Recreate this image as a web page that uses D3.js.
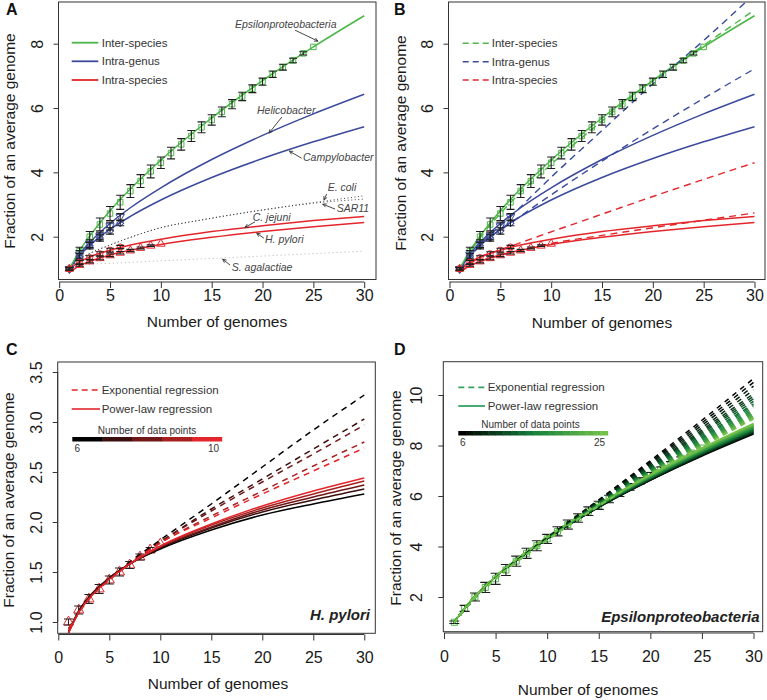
<!DOCTYPE html>
<html><head><meta charset="utf-8">
<script src="https://cdn.jsdelivr.net/npm/d3@7"></script>
<style>
body{margin:0;background:#fff;}
svg{display:block;}
</style></head><body>
<svg id="chart" width="767" height="700"></svg>
<script>
// ---------------- DATA ----------------
const genomeTicks = [0, 5, 10, 15, 20, 25, 30];
const yTicksAB = [2, 4, 6, 8];
const yTicksC = [1.0, 1.5, 2.0, 2.5, 3.0, 3.5];
const yTicksD = [2, 4, 6, 8, 10];

// Inter-species (Epsilonproteobacteria) observed means
const epsGenomes = [1,2,3,4,5,6,7,8,9,10,11,12,13,14,15,16,17,18,19,20,21,22,23,24,25];
const epsMean = [1.0,1.55,2.0,2.38,2.72,3.07,3.42,3.73,4.03,4.3,4.6,4.87,5.13,5.4,5.63,5.88,6.12,6.36,6.6,6.82,7.05,7.27,7.48,7.7,7.9];
const epsErr  = [0.05,0.12,0.16,0.2,0.22,0.22,0.2,0.2,0.2,0.18,0.18,0.18,0.17,0.17,0.16,0.15,0.14,0.13,0.12,0.11,0.1,0.09,0.07,0.05,0];

// Intra-genus
const genusGenomes = [1,2,3,4,5,6];
const helicoMean = [1.0,1.45,1.78,2.02,2.33,2.62];
const helicoErr  = [0.05,0.12,0.12,0.12,0.12,0.1];
const campyMean  = [1.0,1.38,1.72,1.96,2.18,2.42];
const campyErr   = [0.05,0.1,0.1,0.1,0.1,0.08];

// Intra-species
const cjejuniGenomes = [1,2,3,4,5,6];
const cjejuniMean = [1.0,1.2,1.35,1.47,1.58,1.68];
const cjejuniErr  = [0.04,0.06,0.06,0.06,0.06,0.05];
const hpyloriGenomes = [1,2,3,4,5,6,7,8,9,10];
const hpyloriMean = [1.0,1.12,1.23,1.33,1.42,1.5,1.57,1.65,1.72,1.78];
const hpyloriErr  = [0.03,0.04,0.045,0.045,0.04,0.04,0.035,0.03,0.025,0.0];

// Power-law fitted curves (read at these genome counts)
const fitX = [1,2,3,5,7,10,15,20,25,30];
const helicoPower  = [1.0,1.46,1.82,2.41,2.9,3.52,4.4,5.15,5.82,6.43];
const campyPower   = [1.0,1.41,1.73,2.23,2.63,3.14,3.84,4.43,4.95,5.42];
const cjejuniPower = [1.0,1.22,1.37,1.58,1.74,1.92,2.16,2.34,2.5,2.63];

// Other species (dotted) in panel A
const ecoliX = [1,2,3,5,7,10,14,20,25,30];
const ecoliY = [1.0,1.3,1.48,1.74,1.98,2.28,2.52,2.83,3.06,3.27];
const sar11Y = [1.0,1.3,1.48,1.74,1.98,2.28,2.52,2.83,3.04,3.17];
const sagalX = [1,2,3,5,8,12,17.5,24,30];
const sagalY = [1.0,1.09,1.14,1.17,1.22,1.28,1.36,1.46,1.55];

// Exponential fitted curves (panel B)
const expX = [1,3,6,10,15,20,25,30];
const helicoExp  = [0.97,1.75,2.62,3.85,5.3,6.75,8.1,9.55];
const campyExp   = [0.97,1.72,2.42,3.3,4.35,5.35,6.3,7.22];
const cjejuniExp = [0.97,1.35,1.7,2.15,2.7,3.25,3.78,4.3];

// Panel C: H. pylori fits with 6..10 data points
const hpN = [6,7,8,9,10];
const hpPowerX = [1,2,3,5,7,10,15,20,25,30];
const hpPower = [
  [0.9,1.11,1.25,1.44,1.58,1.73,1.92,2.07,2.18,2.28],
  [0.9,1.105,1.245,1.44,1.58,1.74,1.94,2.10,2.22,2.33],
  [0.895,1.10,1.24,1.435,1.58,1.75,1.95,2.12,2.25,2.37],
  [0.89,1.10,1.235,1.43,1.58,1.755,1.97,2.14,2.28,2.41],
  [0.89,1.095,1.23,1.43,1.58,1.76,1.98,2.16,2.31,2.44]
];
const hpExpX = [1,3,5,7,10,15,20,25,30];
const hpExp = [
  [0.93,1.24,1.43,1.6,1.82,2.18,2.55,2.92,3.27],
  [0.93,1.24,1.43,1.59,1.8,2.13,2.43,2.73,3.03],
  [0.93,1.24,1.43,1.59,1.8,2.11,2.40,2.68,2.97],
  [0.93,1.23,1.42,1.58,1.79,2.06,2.31,2.56,2.80],
  [0.93,1.23,1.42,1.58,1.79,2.04,2.28,2.51,2.74]
];

// Panel D: Epsilonproteobacteria fits with 6..25 data points
const epsN = [6,7,8,9,10,11,12,13,14,15,16,17,18,19,20,21,22,23,24,25];
const epsFitX = [1,2,3,5,10,15,20,25,30];
const epsPowerByN = [
  [1.0,1.56,2.02,2.8,4.30,5.55,6.62,7.58,8.45],
  [1.0,1.56,2.02,2.8,4.30,5.56,6.63,7.60,8.47],
  [1.0,1.56,2.02,2.8,4.31,5.56,6.64,7.61,8.49],
  [1.0,1.56,2.02,2.8,4.31,5.57,6.66,7.63,8.52],
  [1.0,1.56,2.02,2.8,4.32,5.58,6.67,7.65,8.54],
  [1.0,1.56,2.02,2.8,4.32,5.59,6.68,7.66,8.56],
  [1.0,1.56,2.02,2.8,4.33,5.59,6.69,7.68,8.58],
  [1.0,1.56,2.02,2.8,4.33,5.60,6.70,7.70,8.60],
  [1.0,1.56,2.02,2.8,4.33,5.61,6.72,7.71,8.63],
  [1.0,1.56,2.02,2.8,4.34,5.62,6.73,7.73,8.65],
  [1.0,1.56,2.02,2.8,4.34,5.62,6.74,7.75,8.67],
  [1.0,1.56,2.02,2.81,4.35,5.63,6.75,7.77,8.69],
  [1.0,1.56,2.02,2.81,4.35,5.64,6.77,7.78,8.72],
  [1.0,1.56,2.02,2.81,4.35,5.65,6.78,7.80,8.74],
  [1.0,1.56,2.02,2.81,4.36,5.65,6.79,7.82,8.76],
  [1.0,1.56,2.02,2.81,4.36,5.66,6.80,7.83,8.78],
  [1.0,1.56,2.02,2.81,4.37,5.67,6.81,7.85,8.80],
  [1.0,1.56,2.02,2.81,4.37,5.68,6.83,7.87,8.83],
  [1.0,1.56,2.02,2.81,4.38,5.68,6.84,7.88,8.85],
  [1.0,1.56,2.02,2.81,4.38,5.69,6.85,7.90,8.87]
];
const epsExpByN = [
  [0.98,1.5,1.96,2.75,4.35,5.85,7.40,9.00,10.65],
  [0.98,1.5,1.96,2.75,4.34,5.83,7.35,8.90,10.50],
  [0.98,1.5,1.96,2.75,4.33,5.80,7.30,8.80,10.35],
  [0.98,1.5,1.96,2.75,4.32,5.78,7.25,8.70,10.20],
  [0.98,1.5,1.96,2.75,4.31,5.76,7.19,8.61,10.05],
  [0.98,1.5,1.96,2.74,4.31,5.74,7.16,8.54,9.95],
  [0.98,1.5,1.96,2.74,4.30,5.73,7.13,8.48,9.85],
  [0.98,1.5,1.96,2.74,4.29,5.71,7.09,8.41,9.75],
  [0.98,1.5,1.96,2.74,4.29,5.69,7.06,8.34,9.65],
  [0.98,1.5,1.96,2.74,4.28,5.68,7.03,8.30,9.58],
  [0.98,1.5,1.96,2.73,4.28,5.67,7.00,8.25,9.50],
  [0.98,1.5,1.96,2.73,4.27,5.66,6.98,8.20,9.43],
  [0.98,1.5,1.96,2.73,4.27,5.65,6.96,8.16,9.37],
  [0.98,1.5,1.96,2.73,4.27,5.64,6.94,8.12,9.31],
  [0.98,1.5,1.96,2.73,4.26,5.63,6.92,8.09,9.26],
  [0.98,1.5,1.96,2.72,4.26,5.63,6.91,8.06,9.21],
  [0.98,1.5,1.96,2.72,4.26,5.62,6.89,8.03,9.17],
  [0.98,1.5,1.96,2.72,4.26,5.61,6.88,8.00,9.13],
  [0.98,1.5,1.96,2.72,4.25,5.61,6.86,7.98,9.09],
  [0.98,1.5,1.96,2.72,4.25,5.60,6.85,7.95,9.05]
];

const legendAB = ["Inter-species", "Intra-genus", "Intra-species"];
const legendCD = ["Exponential regression", "Power-law regression"];

// ---------------- STYLE ----------------
const FONT = '"Liberation Sans", Arial, Helvetica, sans-serif';
const GREEN = "#4cb748", BLUE = "#3b4a9c", RED = "#e3262b", BARC = "#1e1e1e", AXC = "#333";
const hpColors = ["#000000", "#3c0e0e", "#701717", "#a81f1f", "#e3262b"];
const epsColor = d3.scaleLinear().domain([6, 15.5, 25]).range(["#000000", "#15803c", "#74c24a"]);

const svg = d3.select("#chart");

function panel(cfg) {
  const x = d3.scaleLinear().domain([0, 30]).range(cfg.xRange);
  const y = d3.scaleLinear().domain(cfg.yDomain).range(cfg.yRange);
  const [bl, bt, br, bb] = cfg.box;
  const clipId = "clip-" + cfg.name;
  svg.append("clipPath").attr("id", clipId).append("rect")
    .attr("x", bl).attr("y", bt).attr("width", br - bl).attr("height", bb - bt);
  const layer = svg.append("g").attr("clip-path", `url(#${clipId})`);
  svg.append("rect").attr("x", bl).attr("y", bt).attr("width", br - bl).attr("height", bb - bt)
    .attr("fill", "none").attr("stroke", AXC).attr("stroke-width", 1);

  const xg = svg.append("g").attr("transform", `translate(0,${cfg.xAxisY})`)
    .call(d3.axisBottom(x).tickValues(genomeTicks).tickSize(6).tickSizeOuter(0));
  xg.select(".domain").remove();
  xg.append("line").attr("x1", x(genomeTicks[0])).attr("x2", x(genomeTicks[genomeTicks.length - 1]))
    .attr("stroke", AXC);
  xg.selectAll(".tick line").attr("stroke", AXC);
  xg.selectAll(".tick text").attr("y", cfg.xLabelY - cfg.xAxisY).attr("dy", null)
    .attr("font-size", 16).attr("font-family", FONT).attr("fill", "#1a1a1a");

  const yg = svg.append("g").attr("transform", `translate(${cfg.yAxisX},0)`)
    .call(d3.axisLeft(y).tickValues(cfg.yTicks).tickFormat(cfg.yFmt).tickSize(5).tickSizeOuter(0));
  yg.select(".domain").remove();
  yg.append("line").attr("y1", y(cfg.yTicks[0])).attr("y2", y(cfg.yTicks[cfg.yTicks.length - 1]))
    .attr("stroke", AXC);
  yg.selectAll(".tick line").attr("stroke", AXC);
  yg.selectAll(".tick text").attr("transform", "rotate(-90)").attr("x", 0)
    .attr("y", cfg.yLabelX - cfg.yAxisX).attr("dy", null).attr("text-anchor", "middle")
    .attr("font-size", 16).attr("font-family", FONT).attr("fill", "#1a1a1a");

  svg.append("text").attr("x", cfg.xTitle[0]).attr("y", cfg.xTitle[1]).attr("text-anchor", "middle")
    .attr("font-family", FONT).attr("font-size", 15.5).attr("fill", "#1a1a1a").text("Number of genomes");
  svg.append("text").attr("transform", `translate(${cfg.yTitle[0]},${cfg.yTitle[1]}) rotate(-90)`)
    .attr("text-anchor", "middle").attr("font-family", FONT).attr("font-size", 15.5).attr("fill", "#1a1a1a")
    .text("Fraction of an average genome");
  svg.append("text").attr("x", cfg.letter[0]).attr("y", cfg.letter[1]).attr("font-family", FONT)
    .attr("font-weight", "bold").attr("font-size", 16).attr("fill", "#111").text(cfg.name);
  return { x, y, layer };
}

function curve(p, xs, ys, color, width, dash) {
  p.layer.append("path").datum(d3.zip(xs, ys))
    .attr("d", d3.line().x(d => p.x(d[0])).y(d => p.y(d[1])).curve(d3.curveMonotoneX))
    .attr("fill", "none").attr("stroke", color).attr("stroke-width", width)
    .attr("stroke-dasharray", dash || null);
}
function markers(p, xs, ms, type, color, size, rot) {
  p.layer.append("g").selectAll("path").data(d3.zip(xs, ms)).join("path")
    .attr("d", d3.symbol().type(type).size(size))
    .attr("transform", d => `translate(${p.x(d[0])},${p.y(d[1])}) rotate(${rot || 0})`)
    .attr("fill", "none").attr("stroke", color).attr("stroke-width", 1);
}
function errorBars(p, xs, ms, es, capW, color) {
  const g = p.layer.append("g").attr("stroke", color || BARC).attr("stroke-width", 1.1);
  xs.forEach((gx, i) => {
    const e = es[i];
    if (!e) return;
    const cx = p.x(gx), y1 = p.y(ms[i] - e), y2 = p.y(ms[i] + e);
    g.append("line").attr("x1", cx).attr("x2", cx).attr("y1", y1).attr("y2", y2);
    g.append("line").attr("x1", cx - capW / 2).attr("x2", cx + capW / 2).attr("y1", y1).attr("y2", y1);
    g.append("line").attr("x1", cx - capW / 2).attr("x2", cx + capW / 2).attr("y1", y2).attr("y2", y2);
  });
}
function legendLines(labels, colors, x0, x1, ys, tx, dash, width) {
  labels.forEach((t, i) => {
    svg.append("line").attr("x1", x0).attr("x2", x1).attr("y1", ys[i]).attr("y2", ys[i])
      .attr("stroke", colors[i]).attr("stroke-width", width).attr("stroke-dasharray", dash[i] || null);
    svg.append("text").attr("x", tx).attr("y", ys[i] + 4).attr("font-family", FONT)
      .attr("font-size", 11.5).attr("fill", "#333").text(t);
  });
}
function arrow(p, from, to) {
  const x1 = p.x(from[0]), y1 = p.y(from[1]), x2 = p.x(to[0]), y2 = p.y(to[1]);
  const a = Math.atan2(y2 - y1, x2 - x1), L = 4;
  const g = svg.append("g").attr("stroke", "#333").attr("stroke-width", 0.9).attr("fill", "none");
  g.append("line").attr("x1", x1).attr("y1", y1).attr("x2", x2).attr("y2", y2);
  g.append("path").attr("d", `M${x2 - L * Math.cos(a - 0.45)},${y2 - L * Math.sin(a - 0.45)}L${x2},${y2}L${x2 - L * Math.cos(a + 0.45)},${y2 - L * Math.sin(a + 0.45)}`);
}

function drawGenusSpecies(p) {
  curve(p, fitX, helicoPower, BLUE, 1.5);
  curve(p, fitX, campyPower, BLUE, 1.5);
  curve(p, fitX, cjejuniPower, RED, 1.5);
  curve(p, hpPowerX, hpPower[4], RED, 1.5);
  curve(p, epsFitX, epsPowerByN[19], GREEN, 1.5);
}
function drawObserved(p) {
  markers(p, epsGenomes, epsMean, d3.symbolSquare, GREEN, 30, 0);
  errorBars(p, epsGenomes, epsMean, epsErr, 8);
  markers(p, genusGenomes, helicoMean, d3.symbolTriangle, BLUE, 30, 180);
  markers(p, genusGenomes, campyMean, d3.symbolSquare, BLUE, 24, 45);
  errorBars(p, genusGenomes, helicoMean, helicoErr, 8);
  errorBars(p, genusGenomes, campyMean, campyErr, 8);
  markers(p, cjejuniGenomes, cjejuniMean, d3.symbolCircle, RED, 30, 0);
  markers(p, hpyloriGenomes, hpyloriMean, d3.symbolTriangle, RED, 30, 0);
  errorBars(p, cjejuniGenomes, cjejuniMean, cjejuniErr, 8);
  errorBars(p, hpyloriGenomes, hpyloriMean, hpyloriErr, 8);
}

// ---------------- PANEL A ----------------
const pA = panel({
  name: "A", box: [58.5, 2, 376, 279.5], xRange: [59.2, 364.2], yDomain: [2, 8], yRange: [236.7, 43.7],
  xAxisY: 282, xLabelY: 301, yAxisX: 58.5, yLabelX: 43.3, yTicks: yTicksAB, yFmt: d3.format("d"),
  xTitle: [217, 327], yTitle: [15, 141], letter: [6, 15]
});
curve(pA, sagalX, sagalY, "#b0b0b0", 1, "1,3");
curve(pA, ecoliX, ecoliY, "#333", 0.9, "1,2.5");
curve(pA, ecoliX, sar11Y, "#333", 0.9, "1,2.5");
drawGenusSpecies(pA);
drawObserved(pA);
legendLines(legendAB, [GREEN, BLUE, RED], 71.7, 98.3, [42.7, 61.3, 80], 101.7, [], 1.8);

const annotations = [
  { t: "Epsilonproteobacteria", at: [17.29, 8.49], from: [23.2, 8.42], to: [25.45, 8.08] },
  { t: "Helicobacter", at: [19.46, 5.81], from: [21.9, 5.72], to: [20.64, 5.22] },
  { t: "Campylobacter", at: [23.98, 4.35], from: [23.85, 4.44], to: [22.63, 4.66] },
  { t: "E. coli", at: [26.41, 3.42], from: [26.31, 3.33], to: [26.05, 3.14] },
  { t: "SAR11", at: [27.29, 2.77], from: [27.13, 2.86], to: [25.92, 3.01] },
  { t: "C. jejuni", at: [19.03, 2.50], from: [19.26, 2.46], to: [18.27, 2.29] },
  { t: "H. pylori", at: [20.24, 1.81], from: [20.14, 1.95], to: [19.43, 2.11] },
  { t: "S. agalactiae", at: [16.97, 0.93], from: [16.8, 1.12], to: [16.08, 1.3] }
];
annotations.forEach(a => {
  svg.append("text").attr("x", pA.x(a.at[0])).attr("y", pA.y(a.at[1])).attr("font-family", FONT)
    .attr("font-style", "italic").attr("font-size", 10.5).attr("fill", "#444").text(a.t);
  arrow(pA, a.from, a.to);
});

// ---------------- PANEL B ----------------
const pB = panel({
  name: "B", box: [448.5, 2, 765, 279.5], xRange: [449.5, 754.5], yDomain: [2, 8], yRange: [236.7, 43.7],
  xAxisY: 282, xLabelY: 301, yAxisX: 448.5, yLabelX: 432.5, yTicks: yTicksAB, yFmt: d3.format("d"),
  xTitle: [602, 328], yTitle: [406, 143], letter: [394, 15]
});
drawGenusSpecies(pB);
curve(pB, epsFitX, epsExpByN[19], GREEN, 1.4, "7,5");
curve(pB, expX, helicoExp, BLUE, 1.4, "7,5");
curve(pB, expX, campyExp, BLUE, 1.4, "7,5");
curve(pB, expX, cjejuniExp, RED, 1.4, "7,5");
curve(pB, hpExpX, hpExp[4], RED, 1.4, "7,5");
drawObserved(pB);
legendLines(legendAB, [GREEN, BLUE, RED], 462.7, 490, [43.3, 61.7, 80], 491.7, ["6,4", "6,4", "6,4"], 1.6);

// ---------------- PANEL C ----------------
const pC = panel({
  name: "C", box: [57.7, 362, 375.3, 633.3], xRange: [58.3, 364.3], yDomain: [1, 3.5], yRange: [622, 372],
  xAxisY: 634.5, xLabelY: 663, yAxisX: 57.7, yLabelX: 42, yTicks: yTicksC, yFmt: d3.format(".1f"),
  xTitle: [218, 689], yTitle: [13.5, 500], letter: [6, 355]
});
markers(pC, hpyloriGenomes, hpyloriMean, d3.symbolTriangle, RED, 45, 0);
errorBars(pC, hpyloriGenomes, hpyloriMean, hpyloriErr, 9);
hpN.forEach((n, i) => curve(pC, hpPowerX, hpPower[i], hpColors[i], 1.5));
hpN.forEach((n, i) => curve(pC, hpExpX, hpExp[i], hpColors[i], 1.5, "6,5"));
legendLines(legendCD, [RED, RED], 71.7, 100, [390, 409], 101.7, ["6,4", null], 1.6);
svg.append("text").attr("x", 147).attr("y", 434).attr("text-anchor", "middle").attr("font-family", FONT)
  .attr("font-size", 10).attr("fill", "#333").text("Number of data points");
const cBar = d3.scaleBand().domain(hpN).range([72.3, 221.7]);
svg.append("g").selectAll("rect").data(hpN).join("rect")
  .attr("x", d => cBar(d)).attr("width", cBar.bandwidth() + 0.5).attr("y", 437).attr("height", 4.5)
  .attr("fill", (d, i) => hpColors[i]);
svg.append("text").attr("x", 77.3).attr("y", 452).attr("text-anchor", "middle").attr("font-family", FONT)
  .attr("font-size", 10).attr("fill", "#333").text(hpN[0]);
svg.append("text").attr("x", 219).attr("y", 452).attr("text-anchor", "end").attr("font-family", FONT)
  .attr("font-size", 10).attr("fill", "#333").text(hpN[hpN.length - 1]);
svg.append("text").attr("x", 370).attr("y", 620).attr("text-anchor", "end").attr("font-family", FONT)
  .attr("font-size", 15).attr("font-weight", "bold").attr("font-style", "italic").attr("fill", "#222").text("H. pylori");

// ---------------- PANEL D ----------------
const pD = panel({
  name: "D", box: [443.3, 361.7, 762.7, 631.7], xRange: [444, 753.5], yDomain: [2, 10], yRange: [597, 395],
  xAxisY: 633, xLabelY: 662, yAxisX: 443.3, yLabelX: 421.7, yTicks: yTicksD, yFmt: d3.format("d"),
  xTitle: [588, 695], yTitle: [400.5, 498], letter: [394, 355]
});
markers(pD, epsGenomes, epsMean, d3.symbolSquare, GREEN, 36, 0);
errorBars(pD, epsGenomes, epsMean, epsErr, 10);
epsN.forEach((n, i) => curve(pD, epsFitX, epsPowerByN[i], epsColor(n), 1.5));
epsN.forEach((n, i) => curve(pD, epsFitX, epsExpByN[i], epsColor(n), 1.5, "5,5"));
legendLines(legendCD, ["#33a35f", "#33a35f"], 458.3, 485, [387.3, 406], 487.7, ["6,4", null], 1.8);
svg.append("text").attr("x", 530.5).attr("y", 427.7).attr("text-anchor", "middle").attr("font-family", FONT)
  .attr("font-size", 10).attr("fill", "#333").text("Number of data points");
const dBar = d3.scaleBand().domain(epsN).range([458.3, 607.7]);
svg.append("g").selectAll("rect").data(epsN).join("rect")
  .attr("x", d => dBar(d)).attr("width", dBar.bandwidth() + 0.5).attr("y", 431).attr("height", 4.5)
  .attr("fill", d => epsColor(d));
svg.append("text").attr("x", 462.7).attr("y", 445.7).attr("text-anchor", "middle").attr("font-family", FONT)
  .attr("font-size", 10).attr("fill", "#333").text(epsN[0]);
svg.append("text").attr("x", 605).attr("y", 445.7).attr("text-anchor", "end").attr("font-family", FONT)
  .attr("font-size", 10).attr("fill", "#333").text(epsN[epsN.length - 1]);
svg.append("text").attr("x", 759.5).attr("y", 621.7).attr("text-anchor", "end").attr("font-family", FONT)
  .attr("font-size", 15).attr("font-weight", "bold").attr("font-style", "italic").attr("fill", "#222").text("Epsilonproteobacteria");
</script>
</body></html>
